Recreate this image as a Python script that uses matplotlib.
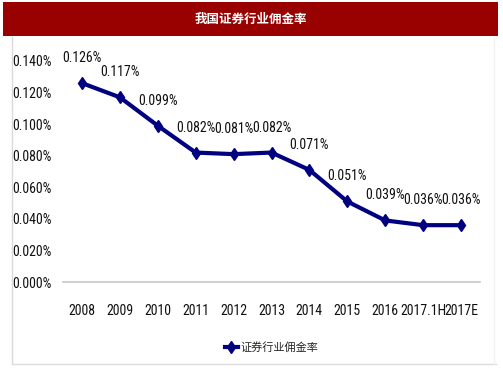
import matplotlib
matplotlib.use("Agg")
import matplotlib.pyplot as plt
from matplotlib import font_manager
from matplotlib.patches import Rectangle
from matplotlib.lines import Line2D
from matplotlib.ticker import FuncFormatter

categories = ["2008", "2009", "2010", "2011", "2012", "2013", "2014", "2015", "2016", "2017.1H", "2017E"]
values = [0.126, 0.117, 0.099, 0.082, 0.081, 0.082, 0.071, 0.051, 0.039, 0.036, 0.036]
labels = ["0.126%", "0.117%", "0.099%", "0.082%", "0.081%", "0.082%", "0.071%", "0.051%", "0.039%", "0.036%", "0.036%"]
yticks = [0.0, 0.02, 0.04, 0.06, 0.08, 0.10, 0.12, 0.14]
title = "我国证券行业佣金率"
series_name = "证券行业佣金率"

names = {f.name for f in font_manager.fontManager.ttflist}
num_font = "Liberation Sans"
for cand in ["Roboto Condensed", "PT Sans Narrow", "Archivo Narrow", "Liberation Sans Narrow"]:
    if cand in names:
        num_font = cand
        break
cjk = ["Noto Sans CJK SC", "DejaVu Sans"]

W, H = 503, 378
fig = plt.figure(figsize=(W / 100, H / 100), dpi=100)
fig.patch.set_facecolor("white")

# title bar
fig.patches.append(Rectangle((3 / W, 1 - 36 / H), 495 / W, 34 / H, transform=fig.transFigure,
                             facecolor="#990000", edgecolor="none"))
fig.text(251 / W, 1 - 19 / H, title, color="white", fontsize=9, fontweight="bold",
         family=cjk, ha="center", va="center")

# outer chart frame
fig.add_artist(Line2D([12 / W, 12 / W], [1 - 37 / H, 1 - 364 / H], transform=fig.transFigure,
                      color="#d9d9d9", lw=1))
fig.add_artist(Line2D([12 / W, 496 / W], [1 - 364 / H, 1 - 364 / H], transform=fig.transFigure,
                      color="#dcdcdc", lw=1))
fig.add_artist(Line2D([494 / W, 494 / W], [1 - 37 / H, 1 - 364 / H], transform=fig.transFigure,
                      color="#f2f2f2", lw=1))

x0, x1 = 63, 480
y0, y1 = 282, 61
ax = fig.add_axes([x0 / W, 1 - y0 / H, (x1 - x0) / W, (y0 - y1) / H])
ax.set_facecolor("none")
xs = list(range(len(categories)))
ax.plot(xs, values, color="#000080", lw=3, marker="d", markersize=6, label=series_name)
for x, v, t in zip(xs, values, labels):
    ax.annotate(t, (x, v), xytext=(0, 18), textcoords="offset points", ha="center", va="center",
                fontsize=10, family=num_font, color="#111111")

ax.set_xlim(-0.5, len(categories) - 0.5)
ax.set_ylim(0, 0.14)
ax.set_yticks(yticks)
ax.yaxis.set_major_formatter(FuncFormatter(lambda v, p: f"{v:.3f}%"))
ax.set_xticks(xs)
ax.set_xticklabels(categories)
for s in ["top", "right", "left"]:
    ax.spines[s].set_visible(False)
ax.spines["bottom"].set_color("#c8c8c8")
ax.spines["bottom"].set_linewidth(1.2)
ax.tick_params(axis="both", length=0, labelsize=10, colors="#111111")
ax.tick_params(axis="y", pad=8)
ax.tick_params(axis="x", pad=16)
for lab in ax.get_xticklabels() + ax.get_yticklabels():
    lab.set_family(num_font)

leg = ax.legend(loc="center", bbox_to_anchor=(0.5, (y0 - 347) / (y0 - y1)), frameon=False,
                prop={"family": cjk, "size": 8}, handlelength=1.2, handletextpad=0.2,
                borderaxespad=0, borderpad=0)
for t in leg.get_texts():
    t.set_color("#222222")

fig.savefig("out.png", dpi=100)
